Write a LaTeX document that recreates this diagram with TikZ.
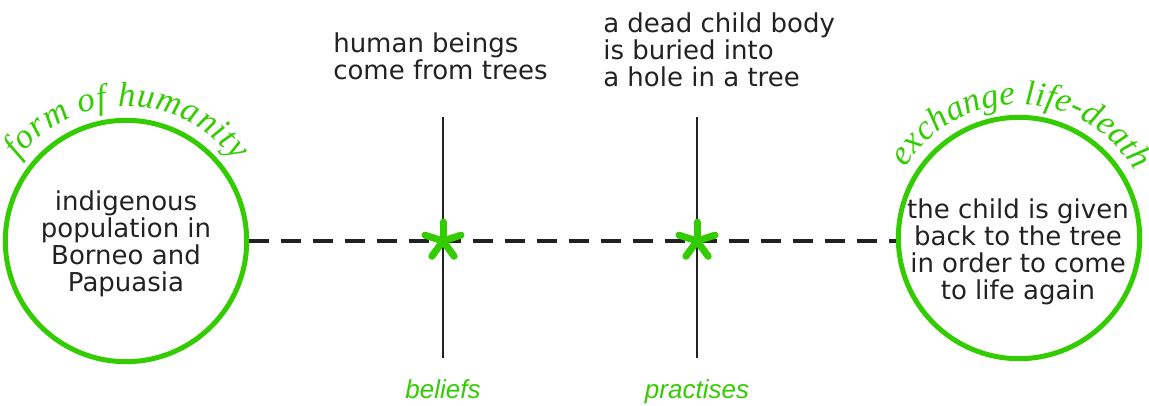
\documentclass[tikz,border=0pt]{standalone}
\usepackage{fontspec}
\setmainfont{DejaVu Sans}
\newfontfamily\tagfont{Liberation Sans}
\newfontfamily\arcfont{Liberation Serif}
\usetikzlibrary{positioning, decorations.text}
\definecolor{leafgreen}{HTML}{33CC00}
\definecolor{inkgray}{HTML}{222222}

\begin{document}
\begin{tikzpicture}[
  x=0.75pt, y=0.75pt,
  every node/.style={inner sep=0pt, text=inkgray},
  body/.style={font=\fontsize{19.5}{20.25}\selectfont, align=center},
  ring/.style={circle, draw=leafgreen, line width=3.75pt, minimum size=181pt},
  axis/.style={draw=inkgray, line width=2.2pt},
  link/.style={draw=inkgray, line width=2.3pt, dash pattern=on 15pt off 9pt},
  arm/.style={leafgreen, line width=5.25pt, line cap=round},
  tag/.style={font=\tagfont\itshape\fontsize{19.5}{22}\selectfont, text=leafgreen},
  curve/.style={decorate, decoration={text along path, text align=fit to path,
    text color=leafgreen, text={|\arcfont\itshape\fontsize{26}{28}\selectfont|#1}}}
]
\useasboundingbox (0,0) rectangle (1149,405);

% the two circles
\node[ring] (pop)  at (126,164) {};
\node[ring] (exch) at (1019,167) {};
\node[body] (poptext)  at (126,161) {indigenous\\population in\\Borneo and\\Papuasia};
\node[body] (exchtext) at (1018,153) {the child is given\\back to the tree\\in order to come\\to life again};

% texts bent over the circles
\path[curve={form of humanity}] ([shift={(143:101pt)}]pop.center) arc (143:36:101pt);
\path[curve={exchange life-death}] ([shift={(148:100pt)}]exch.center) arc (148:30:100pt);

% the two crossings
\coordinate (b) at (443,164);
\coordinate (p) at (697,164);
\coordinate (btop) at (443,288);
\coordinate (bbot) at (443,47);
\coordinate (ptop) at (697,288);
\coordinate (pbot) at (697,47);
\draw[axis] (btop) -- (bbot);
\draw[axis] (ptop) -- (pbot);
\draw[link] (pop.east) -- (pop.east -| exch.west);
\foreach \a in {90,18,162,-54,-126} {
  \draw[arm] (b) -- ++(\a:14.2pt);
  \draw[arm] (p) -- ++(\a:14.2pt);
}

% labels
\node[body, align=left, anchor=north west] (belieftext) at (333,373) {human beings\\come from trees};
\node[body, align=left, anchor=north west] (practtext) at (603,393) {a dead child body\\is buried into\\a hole in a tree};
\node[tag, below=16pt of bbot] (beliefs) {beliefs};
\node[tag, below=16pt of pbot] (practises) {practises};
\end{tikzpicture}
\end{document}
